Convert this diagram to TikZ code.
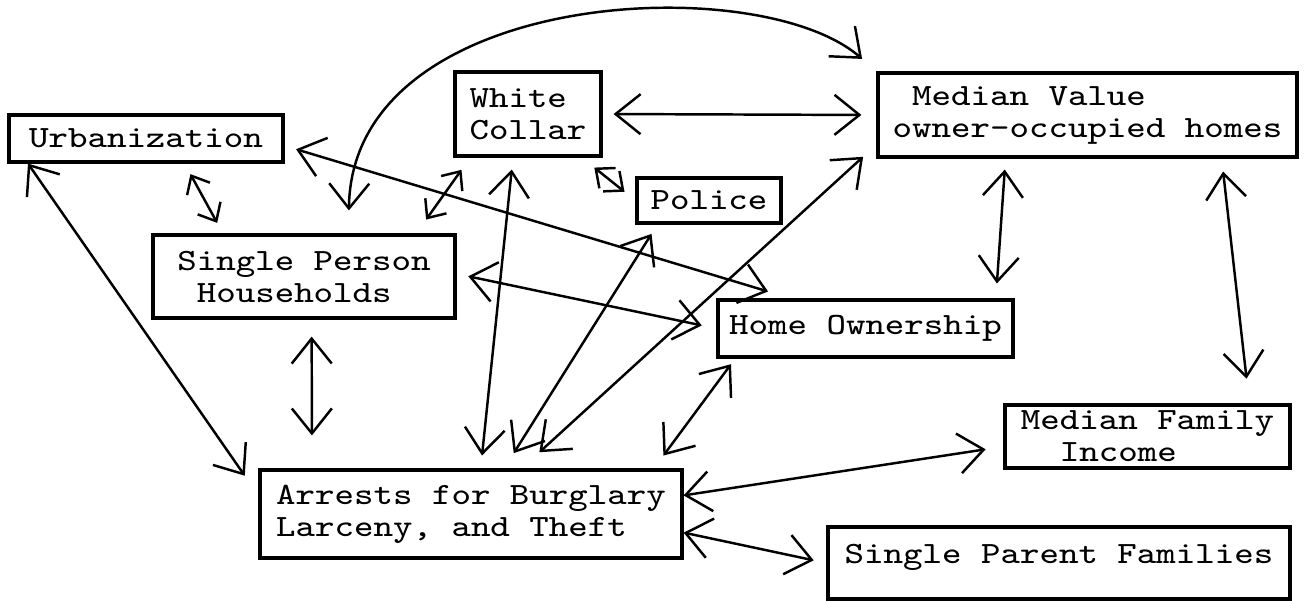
\documentclass[tikz,border=0pt]{standalone}
\usepackage{fontspec}
\newfontfamily\typer{Latin Modern Mono}[FakeStretch=1.2]
\usetikzlibrary{arrows.meta}

\begin{document}
\begin{tikzpicture}[
  factor/.style={draw, line width=0.9pt, inner sep=0pt, align=left,
    font=\typer\fontsize{8.8}{9.1}\selectfont},
  link/.style={{Straight Barb[length=2.5mm,width=4mm]}-{Straight Barb[length=2.5mm,width=4mm]},
    line width=0.7pt},
  short link/.style={{Straight Barb[length=1.5mm,width=2.6mm]}-{Straight Barb[length=1.5mm,width=2.6mm]},
    line width=0.7pt}
]
  \useasboundingbox (0,0) rectangle (13.08,-6.00);

  \node [factor, minimum width=2.74cm, minimum height=0.47cm] (urb) at (1.46,-1.385) {Urbanization};
  \node [factor, minimum width=1.46cm, minimum height=0.84cm] (wc) at (5.28,-1.14) {White\\Collar};
  \node [factor, minimum width=1.44cm, minimum height=0.45cm] (pol) at (7.09,-2.005) {Police};
  \node [factor, minimum width=4.19cm, minimum height=0.84cm] (mv) at (10.875,-1.15) {\hphantom{M}Median Value\\owner-occupied homes};
  \node [factor, minimum width=3.02cm, minimum height=0.83cm] (sp) at (3.04,-2.765) {Single Person\\\hphantom{M}Households};
  \node [factor, minimum width=2.95cm, minimum height=0.57cm] (ho) at (8.655,-3.285) {Home Ownership};
  \node [factor, minimum width=2.85cm, minimum height=0.63cm] (mfi) at (11.475,-4.365) {Median Family\\\hphantom{MM}Income};
  \node [factor, minimum width=4.22cm, minimum height=0.88cm] (arr) at (4.71,-5.14) {Arrests for Burglary\\Larceny, and Theft};
  \node [factor, minimum width=4.62cm, minimum height=0.72cm, text height=2mm, text depth=2mm] (spf) at (10.59,-5.63) {Single Parent Families};

  \draw [link, shorten <=2.3mm, shorten >=1.9mm] (sp.44) .. controls +(0.03,2.45) and +(-1.18,1.03) .. (mv.north west);
  \draw [link, shorten <=1.1mm, shorten >=1.5mm] (wc.0) -- (mv.180);
  \draw [link, shorten <=1.2mm, shorten >=2.4mm] (urb.-3) -- (ho.158);
  \draw [short link, shorten <=1.2mm, shorten >=1.2mm] (urb.-33) -- (sp.152);
  \draw [link, shorten <=0mm, shorten >=2.4mm] (urb.192) -- (arr.175);
  \draw [short link, shorten <=1.5mm, shorten >=1.7mm] (wc.217) -- (sp.21);
  \draw [link, shorten <=1.2mm, shorten >=1.3mm] (wc.251) -- (arr.78);
  \draw [short link, shorten <=1.6mm, shorten >=1.4mm] (wc.-39) -- (pol.180);
  \draw [link, shorten <=1.1mm, shorten >=1.8mm] (pol.205) -- (arr.54);
  \draw [link, shorten <=1.8mm, shorten >=2.4mm] (mv.188) -- (arr.42);
  \draw [link, shorten <=1.1mm, shorten >=1.5mm] (mv.208) -- (ho.13);
  \draw [link, shorten <=1.3mm, shorten >=2.5mm] (mv.-18) -- (mfi.18);
  \draw [link, shorten <=1.2mm, shorten >=1.5mm] (sp.1) -- (ho.180);
  \draw [link, shorten <=1.7mm, shorten >=3.3mm] (sp.-80) -- (arr.164);
  \draw [link, shorten <=0.7mm, shorten >=1.6mm] (ho.193) -- (arr.14);
  \draw [link, shorten <=0mm, shorten >=1.8mm] (arr.5) -- (mfi.184);
  \draw [link, shorten <=0mm, shorten >=1.3mm] (arr.-5) -- (spf.180);
\end{tikzpicture}
\end{document}
